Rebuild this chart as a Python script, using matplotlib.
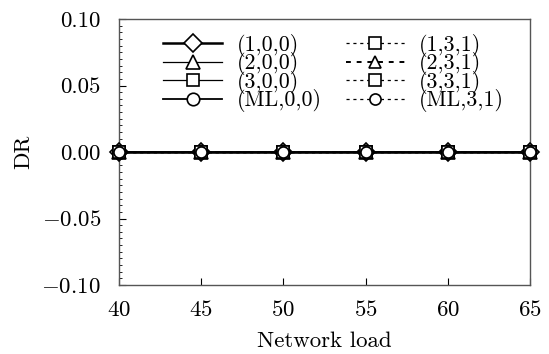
import matplotlib
matplotlib.use("Agg")
import matplotlib.pyplot as plt
from matplotlib.ticker import MultipleLocator

plt.rcParams["font.family"] = "serif"
plt.rcParams["font.serif"] = ["cmr10"]
plt.rcParams["mathtext.fontset"] = "cm"
plt.rcParams["axes.formatter.use_mathtext"] = True

# -------------------------------
# DATA
# -------------------------------
network_load = [40, 45, 50, 55, 60, 65]

labels = ["(1,0,0)", "(2,0,0)", "(3,0,0)", "(ML,0,0)",
          "(1,3,1)", "(2,3,1)", "(3,3,1)", "(ML,3,1)"]

dr_100 = [0, 0, 0, 0, 0, 0]
dr_200 = [0, 0, 0, 0, 0, 0]
dr_300 = [0, 0, 0, 0, 0, 0]
dr_ml00 = [0, 0, 0, 0, 0, 0]
dr_131 = [0, 0, 0, 0, 0, 0]
dr_231 = [0, 0, 0, 0, 0, 0]
dr_331 = [0, 0, 0, 0, 0, 0]
dr_ml31 = [0, 0, 0, 0, 0, 0]

series = [dr_100, dr_200, dr_300, dr_ml00, dr_131, dr_231, dr_331, dr_ml31]
markers = ["D", "^", "s", "o", "s", "^", "s", "o"]
sizes = [9, 10, 9, 9, 8, 9, 8, 8]
dash = (0, (2.5, 3))
styles = ["-", "-", "-", "-", dash, dash, dash, dash]
widths = [1.8, 0.9, 0.9, 1.3, 0.9, 1.4, 0.9, 0.9]

# -------------------------------
# PLOT
# -------------------------------
fig = plt.figure(figsize=(5.49, 3.54), dpi=100)
ax = fig.add_axes([119 / 549, 1 - 285 / 354, (530 - 119) / 549, (285 - 19) / 354])

handles = []
for y, lab, m, ms, ls, lw in zip(series, labels, markers, sizes, styles, widths):
    h, = ax.plot(network_load, y, linestyle=ls, color="black", linewidth=lw,
                 marker=m, markersize=ms, markerfacecolor="white",
                 markeredgecolor="black", markeredgewidth=1.2, label=lab,
                 clip_on=False, zorder=3)
    handles.append(h)

ax.set_xlim(40, 65)
ax.set_ylim(-0.10, 0.10)
ax.set_xticks(network_load)
ax.set_yticks([-0.10, -0.05, 0.00, 0.05, 0.10])
ax.set_yticklabels(["$-0.10$", "$-0.05$", "0.00", "0.05", "0.10"])
ax.yaxis.set_minor_locator(MultipleLocator(0.005))
ax.tick_params(direction="in", labelsize=16.5, length=5, top=False, right=False)
ax.tick_params(which="minor", direction="in", length=2, left=True)
ax.tick_params(axis="x", pad=11)
ax.tick_params(axis="y", pad=13)

ax.set_xlabel("Network load", fontsize=16.5, labelpad=8)
ax.set_ylabel("DR", fontsize=16.5, labelpad=6)

for s in ax.spines.values():
    s.set_color("#555555")
    s.set_linewidth(1.0)

ax.legend(handles=handles, ncol=2, frameon=False, fontsize=15.8,
          loc="upper left", bbox_to_anchor=(0.107, 0.945),
          borderpad=0, borderaxespad=0,
          handlelength=2.7, columnspacing=1.1, handletextpad=0.65,
          labelspacing=-0.2)

fig.savefig("out.png", dpi=100)
